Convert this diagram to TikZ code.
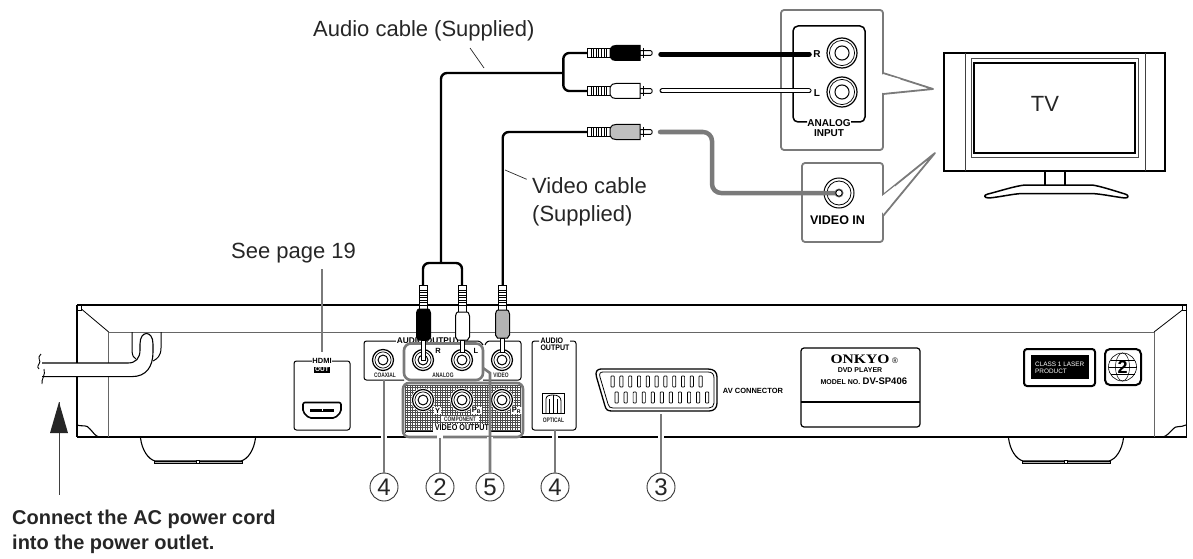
\documentclass[tikz,border=0pt]{standalone}
\usepackage{fontspec}
\setmainfont{Liberation Sans}
\newfontfamily\serifbold{Liberation Serif}
\newcommand{\nar}[2]{\scalebox{#1}[1]{#2}}
\begin{document}
\begin{tikzpicture}[x=1pt,y=-1pt,
  lab/.style={inner sep=0pt,text=black!85,font=\fontsize{22}{26}\selectfont,anchor=base west},
  boldlab/.style={inner sep=0pt,text=black!85,font=\bfseries\fontsize{20}{25}\selectfont,anchor=base west,align=left},
  tiny/.style={inner sep=0.6pt,font=\bfseries\fontsize{6.5}{6.5}\selectfont,text=black!85},
  tinyb/.style={inner sep=0.8pt,font=\bfseries\fontsize{#1}{#1}\selectfont,text=black},
  tinyb/.default=10,
  thin gray/.style={line width=1pt,black!60},
  leader/.style={line width=2.6pt,black!52},
  halo/.style={line width=6pt,white},
  callout/.style={draw=black!52,line width=1.8pt,fill=white,line join=round},
  num/.style={draw=black!80,line width=.9pt,circle,fill=white,minimum size=28pt,inner sep=0pt,font=\fontsize{24}{24}\selectfont,text=black!85},
  tvline/.style={line width=1.5pt,black},
  cab/.style={line width=2.4pt,black,rounded corners=6pt},
  note/.style={line width=.7pt,black!85},
  pin/.style={draw=black,line width=.7pt,fill=white,rounded corners=.7pt},
]
\useasboundingbox (0,0) rectangle (1193,559);

% ---------- macros
\newcommand{\jack}[3]{% x y r
  \fill[white] (#1,#2) circle (#3+1.5);
  \draw[line width=1.2pt] (#1,#2) circle (#3);
  \draw[line width=.7pt] (#1,#2) circle (#3-2.4);
  \draw[line width=1pt] (#1,#2) circle (#3*.47);
}
\newcommand{\vplug}[6]{% x topy bodytop bodybot tipbot colour
  \draw[line width=.9pt,fill=white] (#1-4.4,#2) rectangle (#1+4.4,#3);
  \foreach \q in {0,...,6} \draw[line width=1pt] (#1-4.4,#2+5+\q*2.5) -- (#1+4.4,#2+5+\q*2.5);
  \draw[line width=1pt,fill=white] (#1-2.2,#4) rectangle (#1+2.2,#5);
  \draw[line width=1pt,fill=#6] (#1-7,#3+4) .. controls (#1-6,#3) and (#1-5,#3) .. (#1-4.5,#3) -- (#1+4.5,#3)
     .. controls (#1+5,#3) and (#1+6,#3) .. (#1+7,#3+4) -- (#1+7,#4-3) -- (#1+5,#4) -- (#1-5,#4) -- (#1-7,#4-3) -- cycle;
}
\newcommand{\hplug}[2]{% y colour
  \draw[line width=.9pt,fill=white] (587,#1-4.7) rectangle (610,#1+4.7);
  \foreach \q in {0,...,6} \draw[line width=1pt] (591+\q*2.6,#1-4.7) -- (591+\q*2.6,#1+4.7);
  \draw[line width=.9pt,fill=white] (640,#1-2.4) -- (650.5,#1-2.4) to[out=0,in=0,looseness=1.2] (650.5,#1+2.4) -- (640,#1+2.4) -- cycle;
  \draw[line width=1pt] (643.5,#1-5) -- (643.5,#1+5);
  \draw[line width=1pt,fill=#2] (610,#1-3.5) .. controls (612,#1-7) and (613,#1-7.5) .. (616,#1-7.5) -- (640,#1-7.5) -- (640,#1+7.5) -- (616,#1+7.5)
     .. controls (613,#1+7.5) and (612,#1+7) .. (610,#1+3.5) -- cycle;
}

% ---------- named points
\coordinate (tvV) at (839,193);
\coordinate (hdmitop) at (322,352);
\coordinate (hdmifoot) at (322,269);

% ---------- player body
\draw[line width=1.6pt,black] (77,305) -- (1186.5,305);
\draw[line width=1.2pt,black] (77,305) -- (77,437);
\draw[line width=1.2pt,black] (1186.5,305) -- (1186.5,437);
\draw[line width=1.6pt,black] (77,437) -- (1186.5,437);
\draw[thin gray] (108.7,437) -- (108.7,332) -- (1154,332) -- (1154,437);
\draw[line width=.8pt] (79,307) -- (108.7,332);
\draw[line width=.8pt] (1185,308) -- (1154,332);
\draw[line width=.7pt,fill=white] (77,305) rectangle (81,310);
\draw[line width=.7pt,fill=white] (1182.5,305) rectangle (1186.5,310);
\draw[line width=1.1pt] (77,425) .. controls (84,427) and (86,424) .. (90,429) .. controls (93,432) and (95,436) .. (99,437);
\draw[line width=1.1pt] (1186,425) .. controls (1180,428) and (1176,425) .. (1173,429) .. controls (1170,432) and (1167,436) .. (1163,437);

% feet
\foreach \fx in {0,868}{
  \begin{scope}[xshift=\fx pt]
  \draw[line width=1.1pt] (140.5,438) .. controls (142,450) and (148,459) .. (155,461) -- (241,461) .. controls (248,459) and (254,450) .. (255.5,438);
  \draw[line width=.8pt,fill=black!30] (154,461) rectangle (242,463.5);
  \draw[line width=.6pt,fill=white] (196.5,460) rectangle (199,463.5);
  \end{scope}
}

% power cord
\draw[line width=1pt] (132,332) -- (132,350) .. controls (132,356) and (134,358) .. (136,359);
\draw[line width=1pt] (161,332) -- (161,348) .. controls (161,356) and (157,359) .. (153,361);
\fill[white] (42,363) -- (128,363) .. controls (136,363) and (140,358) .. (140,350) -- (140,344) .. controls (140,330) and (153,330) .. (153,344) -- (153,352) .. controls (153,367) and (146,376.6) .. (132,376.6) -- (42,376.6) -- cycle;
\draw[line width=1.1pt] (42,363) -- (128,363) .. controls (136,363) and (140,358) .. (140,350) -- (140,344) .. controls (140,330) and (153,330) .. (153,344) -- (153,352) .. controls (153,367) and (146,376.6) .. (132,376.6) -- (42,376.6);
\draw[line width=.9pt] (41,354) .. controls (36,358) and (42,361) .. (39,364) .. controls (37,367) and (38,368) .. (39,369);
\draw[line width=.9pt] (44,369) .. controls (46,375) and (41,379) .. (42,384);

% power arrow
\coordinate (powtip) at (59,402);
\coordinate (powfoot) at (59,495);
\draw[line width=1pt,black!75] (powtip) -- (powfoot);
\fill[black!85] (powtip) -- (68,433) -- (50,433) -- cycle;
\node[boldlab] (powertext) at (12,524) {Connect the AC power cord};
\node[boldlab] (powertextb) at (12,549) {into the power outlet.};

% HDMI
\draw[line width=1pt,rounded corners=2.5pt] (294,361) rectangle (350,430);
\node[tinyb=7.5,fill=white] (hdmi) at (322,361) {HDMI};
\node[fill=black,text=white,inner sep=.7pt,font=\bfseries\fontsize{6.5}{6.5}\selectfont] (hdmiout) at (322,369.5) {OUT};
\draw[line width=1.6pt,rounded corners=2pt,fill=white] (303,402.5) -- (341,402.5) -- (341,412) -- (335,418) -- (309,418) -- (303,412) -- cycle;
\draw[line width=3pt] (310,410) -- (334,410);
\fill[white] (321.5,409.4) rectangle (322.5,410.6);
\node[lab] (see) at (231,258) {See page 19};
\draw[leader] (hdmifoot) -- (hdmitop);

% AUDIO OUTPUT box
\draw[line width=1pt,rounded corners=2.5pt] (396,341) -- (364,341) -- (364,380) -- (404,380);
\draw[line width=1pt,rounded corners=2.5pt] (455,341) -- (480,341) -- (483,345);
\draw[line width=1pt,rounded corners=2.5pt] (485,345) -- (487,341) -- (521,341) -- (521,380) -- (483,380);
\node[tinyb=8.3,fill=white,inner xsep=1pt] (audioout) at (428.5,341) {AUDIO OUTPUT};
\jack{383}{360}{10.5}
\node[tiny] (coax) at (385,375.5) {\nar{.75}{COAXIAL}};
\node[tiny] (videol) at (501,375.5) {\nar{.75}{VIDEO}};

% optical
\draw[line width=1pt,rounded corners=2.5pt] (539,341) -- (532,341) -- (532,430) -- (576,430) -- (576,341) -- (570,341);
\node[tinyb=8,fill=white,inner ysep=0pt,anchor=west] (opttxt) at (539.5,341) {\nar{.88}{AUDIO}};
\node[tinyb=8,fill=white,inner ysep=0pt,anchor=west] (opttxtb) at (539.5,348) {\nar{.88}{OUTPUT}};
\draw[line width=.9pt,fill=white] (542,393) rectangle (564,413);
\draw[line width=.8pt] (546,413) -- (546,399) .. controls (546,396) and (549,395) .. (553,395) .. controls (558,395) and (561,397) .. (561,401) -- (561,413);
\draw[line width=.7pt] (549,413) -- (549,399) (553,395) -- (553,413) (557,399) -- (557,413);
\node[tiny] (optical) at (553.5,420.5) {\nar{.75}{OPTICAL}};

% component panel
\begin{scope}
  \clip[rounded corners=5pt] (403,383) rectangle (523,437);
  \fill[white] (403,383) rectangle (523,437);
  \foreach \gx in {0,...,46} \draw[line width=.7pt,black!70] (405+\gx*2.5,385) -- (405+\gx*2.5,433);
  \foreach \gy in {0,...,19} \draw[line width=.7pt,black!70] (405,385+\gy*2.5) -- (521,385+\gy*2.5);
\end{scope}
\draw[line width=2.6pt,black!52,rounded corners=6pt] (403,383) rectangle (523,437);
\jack{423}{400}{10.5}
\jack{462}{400}{10.5}
\jack{502}{400}{10.5}
\node[tinyb=7.5,fill=white] (py) at (437.5,410.5) {Y};
\node[tinyb=7.5,fill=white] (ppb) at (476.5,410.5) {P\textsubscript{B}};
\node[tinyb=7.5,fill=white] (ppr) at (516.5,410.5) {P\textsubscript{R}};
\node[tiny,fill=white,inner xsep=3pt,inner ysep=.5pt] (comp) at (460,419) {\nar{.75}{COMPONENT}};
\fill[white] (406,431) rectangle (520,433.5);
\draw[line width=1pt] (406,431.5) -- (520,431.5);
\node[font=\bfseries\fontsize{8.5}{9}\selectfont,fill=white,inner xsep=2pt,inner ysep=1pt,text=black] (vout) at (462,428) {\nar{.85}{VIDEO OUTPUT}};

% analog outputs
\draw[line width=2.6pt,black!52,rounded corners=7pt,fill=white] (404,343.5) rectangle (483,380);
\node[tiny] (analog) at (443,375.5) {\nar{.75}{ANALOG}};
\node[tinyb=7.5] (oR) at (438,351) {R};
\node[tinyb=7.5] (oL) at (476,351) {L};
\jack{423}{360}{10.5}
\jack{462}{360}{10.5}
\jack{502}{360}{10.5}

% scart
\draw[line width=1.3pt] (601,369) -- (708,369) .. controls (714,369) and (717,372) .. (717,377) -- (717,403) .. controls (717,408) and (714,411) .. (709,411) -- (612,411) .. controls (608,411) and (606,410) .. (605,406) -- (596.5,377) .. controls (595,372) and (597,369) .. (601,369) -- cycle;
\draw[line width=.8pt] (603,372) -- (708,372) .. controls (712,372) and (714,374) .. (714,378) -- (714,403) .. controls (714,406) and (712,408) .. (709,408) -- (613,408) .. controls (610,408) and (609,407) .. (608,404) -- (600,377) .. controls (599,374) and (600,372) .. (603,372) -- cycle;
\foreach \k in {0,...,10}{
  \draw[pin] (611+\k*8.8,376) rectangle (614.2+\k*8.8,387);
  \draw[pin] (615+\k*9.05,392) rectangle (618.2+\k*9.05,403);
}
\node[tinyb=7.5] (avc) at (753,390.5) {AV CONNECTOR};

% model plate
\draw[line width=1.2pt,rounded corners=3pt] (801,348) rectangle (920,427);
\draw[line width=1.2pt] (801,402) -- (920,402);
\node[inner sep=0pt,font=\serifbold\bfseries\fontsize{13}{13}\selectfont] (onkyo) at (860,359.5) {\nar{1.2}{ONKYO}};
\node[inner sep=0pt,font=\fontsize{8}{8}\selectfont] (reg) at (895,361) {®};
\node[inner sep=0pt,font=\bfseries\fontsize{7}{7}\selectfont] (dvd) at (860,370.5) {DVD PLAYER};
\node[inner sep=0pt,font=\bfseries\fontsize{7}{8}\selectfont,anchor=base east] (model) at (860.5,384) {MODEL NO.};
\node[inner sep=0pt,font=\bfseries\fontsize{9.5}{10}\selectfont,anchor=base west] (dvsp) at (862.5,384) {DV-SP406};

% laser
\draw[line width=2pt,rounded corners=3pt] (1024,349) rectangle (1095,386);
\fill[black] (1031,355) rectangle (1089,379);
\node[inner sep=0pt,anchor=base west,text=white,font=\fontsize{6.4}{7}\selectfont] (cl) at (1035,366) {CLASS 1 LASER};
\node[inner sep=0pt,anchor=base west,text=white,font=\fontsize{6.4}{7}\selectfont] (pr) at (1035,373.5) {PRODUCT};
% region mark
\draw[line width=2pt,rounded corners=5pt] (1105,349) rectangle (1141,385);
\draw[line width=.6pt] (1122.5,367) circle (14);
\draw[line width=.5pt] (1122.5,367) ellipse (7 and 14);
\draw[line width=.5pt] (1108.5,367) -- (1136.5,367);
\draw[line width=.5pt] (1110.5,360) -- (1134.5,360) (1110.5,374) -- (1134.5,374);
\node[inner sep=0pt,font=\bfseries\fontsize{18}{18}\selectfont] (two) at (1122.5,367) {2};

% ---------- callouts to TV
\draw[callout,rounded corners=3pt] (781,10) rectangle (883,150);
\draw[callout] (883,73) -- (933,89) -- (883,94);
\fill[white] (881,74) -- (900,79) -- (900,90) -- (881,93) -- cycle;
\draw[callout,rounded corners=3pt] (802,163) rectangle (883,242);
\draw[callout] (883,195) -- (935,153) -- (883,216);
\fill[white] (881,197) -- (895,186) -- (890,206) -- (881,214) -- cycle;
\draw[line width=1.5pt,rounded corners=5pt] (807,122) -- (793,122) -- (793,26) -- (865,26) -- (865,122) -- (851,122);
\node[inner sep=0pt,align=center,font=\bfseries\fontsize{10}{10.4}\selectfont] (ainp) at (829,128) {ANALOG\\INPUT};
\jack{842}{53}{15}
\jack{842}{92}{15}
\node[tinyb=10,inner sep=0pt] (inR) at (817,54) {R};
\node[tinyb=10,inner sep=0pt] (inL) at (817,93) {L};
\node[inner sep=0pt,font=\bfseries\fontsize{12.5}{13}\selectfont] (vin) at (837.5,220.5) {VIDEO IN};
\fill[white] (839,193) circle (15.5);
\draw[line width=1pt] (839,193) circle (15);
\draw[line width=.8pt] (839,193) circle (12);

% ---------- TV
\draw[tvline] (944,53) rectangle (1165,171);
\draw[line width=1pt,black!75] (965,53) -- (965,171) (1145,53) -- (1145,171);
\draw[line width=1pt,black!70] (971,59) rectangle (1138.5,157);
\draw[tvline] (974,63) rectangle (1135,153);
\node[inner sep=0pt,font=\fontsize{22}{22}\selectfont,text=black!85] (tv) at (1045,104) {TV};
\draw[tvline] (1045,171) -- (1045,185) (1065,171) -- (1065,185);
\draw[tvline,line join=round] (1025,185) -- (1092,185) .. controls (1100,186) and (1115,191) .. (1125,194) .. controls (1129,195) and (1129,198) .. (1125,198) .. controls (1115,197) and (1100,193.5) .. (1090,193.5) -- (1022,193.5) .. controls (1012,194) and (1000,197) .. (989,198) .. controls (984,198) and (983,195) .. (988,194) .. controls (1000,191) and (1015,186) .. (1025,185) -- cycle;

% ---------- RCA cables
\coordinate (audiotop) at (563.3,73);
\draw[cab] (441,263) |- (audiotop);
\draw[cab] (423,285) |- (462,263) -- (462,285);
\draw[cab] (587,53) -| (563.3,91) -- (587,91);
\draw[cab] (502.7,285) |- (587,132);

\draw[line width=5.5pt,line cap=round] (661,54.3) -- (809,54.3);
\draw[line width=5pt,line cap=round] (662,91) -- (809,91);
\draw[line width=3pt,line cap=round,white] (662,91) -- (809,91);
\draw[line width=4.5pt,line cap=round,black!52,rounded corners=9pt] (660,132) -- (712,132) -- (712,193) -- (tvV);
\fill[black!60] (tvV) circle (4.5);
\draw[line width=.8pt,fill=white] (839,193) circle (3.2);

% plugs
\hplug{53}{black}
\hplug{91}{white}
\hplug{132}{black!25}
\vplug{423.5}{285}{309}{340}{360}{black}
\vplug{462.5}{285}{312}{340}{352}{white}
\vplug{502.5}{285}{310}{338}{352}{black!30}

% ---------- cable labels
\node[lab] (audiolab) at (313,37) {Audio cable (Supplied)};
\coordinate (audionote) at (484,68);
\draw[note] (470,48) -- (audionote);
\node[lab] (videolab) at (532,193) {Video cable};
\node[lab] (videolabb) at (532,221) {(Supplied)};
\draw[note] (505,170) -- (526.7,179.3);

% ---------- numbered circles and leaders
\node[num] (n4a) at (384,487) {4};
\node[num] (n2) at (440,487) {2};
\node[num] (n5) at (490,487) {5};
\node[num] (n4b) at (555,487) {4};
\node[num] (n3) at (661,487) {3};
\foreach \lx/\ly/\nn in {384/380/n4a,440/438/n2,555/430/n4b,661/414/n3}{
  \draw[halo] (\lx,441) -- (\lx,433);
  \draw[leader] (\nn.north) -- (\lx,\ly);
}
\draw[halo] (490,441) -- (490,437);
\draw[leader] (n5.north) -- (490,373) -- (483,368);
\end{tikzpicture}
\end{document}
